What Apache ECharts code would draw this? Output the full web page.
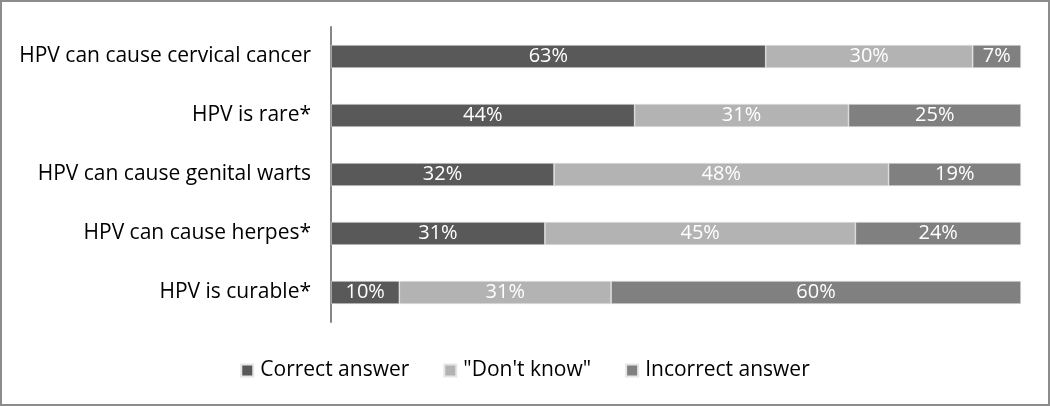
<!DOCTYPE html>
<html>
<head>
<meta charset="utf-8">
<script src="https://cdn.jsdelivr.net/npm/echarts@6/dist/echarts.min.js"></script>
<style>
  html, body { margin: 0; padding: 0; background: #fff; }
  #chart { width: 1050px; height: 406px; box-sizing: border-box; border: 2px solid #8c8c8c; }
</style>
</head>
<body>
<div id="chart"></div>
<script>
// questions, top to bottom
const questions = [
  'HPV can cause cervical cancer',
  'HPV is rare*',
  'HPV can cause genital warts',
  'HPV can cause herpes*',
  'HPV is curable*'
];
// percentages as labelled
const correct   = [63, 44, 32, 31, 10];
const dontKnow  = [30, 31, 48, 45, 31];
const incorrect = [7, 25, 19, 24, 60];

const seriesNames = ['Correct answer', '"Don\'t know"', 'Incorrect answer'];
const colors = ['#595959', '#b3b3b3', '#808080'];
const FONT = 'Open Sans';

// bars fill the whole row (100% stacked), so scale by row total
const totals = questions.map((q, i) => correct[i] + dontKnow[i] + incorrect[i]);

function makeSeries(name, vals, color) {
  return {
    name: name,
    type: 'bar',
    stack: 'all',
    barWidth: '39%',
    itemStyle: { color: color, borderColor: '#e6e6e6', borderWidth: 0.6 },
    label: {
      show: true,
      position: 'inside',
      color: '#fff',
      fontFamily: FONT,
      fontSize: 20,
      formatter: p => vals[p.dataIndex] + '%'
    },
    data: vals.map((v, i) => v / totals[i] * 100)
  };
}

const chart = echarts.init(document.getElementById('chart'));
chart.setOption({
  animation: false,
  color: colors,
  grid: { left: 329, right: 27, top: 25, bottom: 82 },
  xAxis: {
    type: 'value',
    min: 0,
    max: 100,
    show: false
  },
  yAxis: {
    type: 'category',
    inverse: true,
    data: questions,
    axisLine: { lineStyle: { color: '#868686', width: 2 } },
    axisTick: { show: false },
    axisLabel: { color: '#000', fontFamily: FONT, fontSize: 21, margin: 20 }
  },
  legend: {
    bottom: 18,
    left: 'center',
    itemWidth: 12,
    itemHeight: 12,
    itemGap: 34,
    icon: 'rect',
    textStyle: { color: '#000', fontFamily: FONT, fontSize: 21, padding: [0, 0, 0, 2] },
    data: seriesNames
  },
  series: [
    makeSeries(seriesNames[0], correct, colors[0]),
    makeSeries(seriesNames[1], dontKnow, colors[1]),
    makeSeries(seriesNames[2], incorrect, colors[2])
  ]
});
</script>
</body>
</html>
